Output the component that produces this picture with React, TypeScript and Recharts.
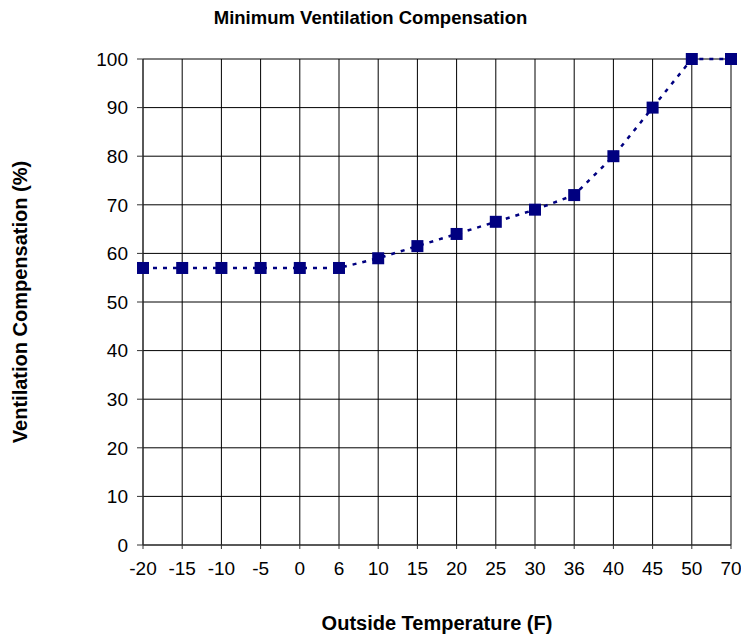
import { LineChart, Line, XAxis, YAxis, CartesianGrid } from 'recharts';

const temps = ['-20', '-15', '-10', '-5', '0', '6', '10', '15', '20', '25', '30', '36', '40', '45', '50', '70'];
const compensation = [57, 57, 57, 57, 57, 57, 59, 61.5, 64, 66.5, 69, 72, 80, 90, 100, 100];
const yTicks = [0, 10, 20, 30, 40, 50, 60, 70, 80, 90, 100];

const data = temps.map((t, i) => ({ temp: t, value: compensation[i] }));

const FONT = 'Arial, "Liberation Sans", sans-serif';

function SquareDot(props: any) {
  const { cx, cy, index } = props;
  if (cx == null || cy == null) return null;
  return <rect key={`dot-${index}`} x={cx - 6} y={cy - 6} width={12} height={12} fill="#000080" />;
}

export default function App() {
  return (
    <div style={{ position: 'absolute', left: 0, top: 0, width: 741, height: 636, background: '#fff', fontFamily: FONT }}>
      <div
        style={{
          position: 'absolute',
          top: 7,
          left: 0,
          width: 741,
          textAlign: 'center',
          fontWeight: 'bold',
          fontSize: 18.5,
          color: '#000',
        }}
      >
        Minimum Ventilation Compensation
      </div>
      <LineChart width={741} height={636} data={data} margin={{ top: 59, right: 10, bottom: 0, left: 0 }}>
        <CartesianGrid stroke="#000" strokeWidth={1} />
        <XAxis
          dataKey="temp"
          height={91}
          stroke="#333"
          tickSize={4}
          tickMargin={13}
          interval={0}
          tick={{ fontSize: 19, fill: '#000', fontFamily: FONT }}
          label={{
            value: 'Outside Temperature (F)',
            position: 'insideBottom',
            offset: 6,
            style: { fontSize: 20, fontWeight: 'bold', fill: '#000', fontFamily: FONT },
          }}
        />
        <YAxis
          domain={[0, 100]}
          ticks={yTicks}
          width={143}
          stroke="#333"
          tickSize={6}
          tickMargin={9}
          interval={0}
          tick={{ fontSize: 19, fill: '#000', fontFamily: FONT }}
          label={{
            value: 'Ventilation Compensation (%)',
            angle: -90,
            position: 'insideLeft',
            offset: 20,
            style: { textAnchor: 'middle', fontSize: 20, fontWeight: 'bold', fill: '#000', fontFamily: FONT },
          }}
        />
        <Line
          type="linear"
          dataKey="value"
          stroke="#000080"
          strokeWidth={2.5}
          strokeDasharray="4 6"
          dot={SquareDot}
          activeDot={false}
          isAnimationActive={false}
        />
      </LineChart>
    </div>
  );
}
